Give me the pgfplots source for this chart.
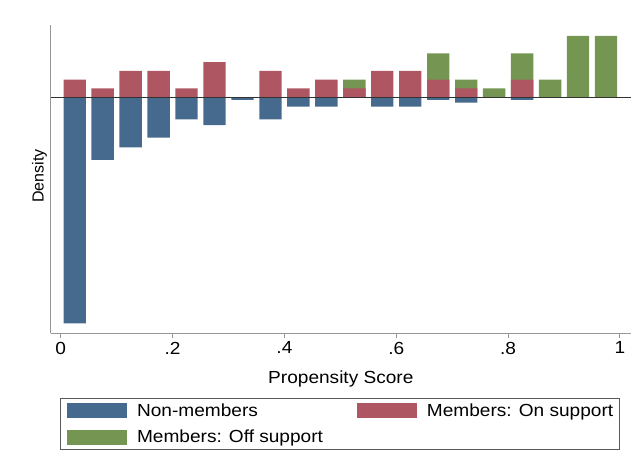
\documentclass[border=0pt]{standalone}
\usepackage{fontspec}
\setmainfont{Liberation Sans}[FakeStretch=1.09]
\newfontfamily\ylabfont{Liberation Sans}
\usepackage{pgfplots}
\pgfplotsset{compat=1.18}

\definecolor{nonmem}{RGB}{70,106,142}
\definecolor{onsup}{RGB}{174,86,98}
\definecolor{offsup}{RGB}{117,150,83}
\definecolor{axgray}{RGB}{150,150,150}
\definecolor{leggray}{RGB}{90,90,90}
\definecolor{zerogray}{RGB}{50,50,50}

\newcommand\hfont{\fontsize{17.5bp}{20bp}\selectfont}

\begin{document}
\begin{tikzpicture}
\useasboundingbox (0,0) rectangle (643bp,467bp);
\begin{axis}[
    at={(50.7bp,133.7bp)}, anchor=south west,
    scale only axis,
    width=580.3bp, height=308.3bp,
    xmin=-0.0179, xmax=1.0197,
    ymin=-26.91, ymax=8.24,
    axis lines*=left,
    axis line style={draw=axgray, line width=1bp},
    xtick={0,0.2,0.4,0.6,0.8,1},
    xticklabels={0,.2,.4,.6,.8,1},
    ytick=\empty,
    tick align=outside,
    major tick length=5bp,
    tick style={draw=axgray, line width=1bp},
    tick label style={font=\hfont},
    /pgf/number format/assume math mode=true,
    xlabel={Propensity Score},
    ylabel={Density},
    xlabel style={font=\hfont, at={(axis description cs:0.5,-0.162)}, anchor=base},
    ylabel style={font=\ylabfont\fontsize{16bp}{19bp}\selectfont,
        at={(axis description cs:-0.0193,0.51)}, anchor=center},
    legend columns=2,
    legend cell align=left,
    legend image code/.code={\fill[#1,draw=none] (0bp,-7.5bp) rectangle (60bp,7.5bp);},
    legend style={at={(axis description cs:0.4988,-0.2089)}, anchor=north,
        draw=leggray, line width=1bp, font=\hfont,
        inner xsep=6.7bp, inner ysep=5bp, row sep=11.5bp,
        nodes={inner sep=0pt},
        /tikz/every odd column/.append style={column sep=10bp},
        /tikz/every even column/.append style={column sep=34bp}},
]

% non-members (drawn below zero)
\addplot[forget plot, ybar, bar width=0.04, bar shift=0pt, fill=nonmem, draw=none]
coordinates {
    (0.025,-25.77) (0.075,-7.15) (0.125,-5.70) (0.175,-4.60)
    (0.225,-2.51) (0.275,-3.19) (0.325,-0.31) (0.375,-2.51)
    (0.425,-1.06) (0.475,-1.06) (0.575,-1.06) (0.625,-1.06)
    (0.675,-0.31) (0.725,-0.61) (0.825,-0.31)
};

% members off support
\addplot[forget plot, ybar, bar width=0.04, bar shift=0pt, fill=offsup, draw=none]
coordinates {
    (0.525,2) (0.675,5) (0.725,2) (0.775,1)
    (0.825,5) (0.875,2) (0.925,7) (0.975,7)
};

% members on support
\addplot[forget plot, ybar, bar width=0.04, bar shift=0pt, fill=onsup, draw=none]
coordinates {
    (0.025,2) (0.075,1) (0.125,3) (0.175,3) (0.225,1)
    (0.275,4) (0.375,3) (0.425,1) (0.475,2) (0.525,1)
    (0.575,3) (0.625,3) (0.675,2) (0.725,1) (0.825,2)
};

\addplot[forget plot, draw=zerogray, line width=1bp]
coordinates {(-0.0179,0) (1.0197,0)};

\addlegendimage{fill=nonmem}
\addlegendentry{Non-members}
\addlegendimage{fill=onsup}
\addlegendentry{Members: On support}
\addlegendimage{fill=offsup}
\addlegendentry{Members: Off support}

\end{axis}
\end{tikzpicture}
\end{document}
